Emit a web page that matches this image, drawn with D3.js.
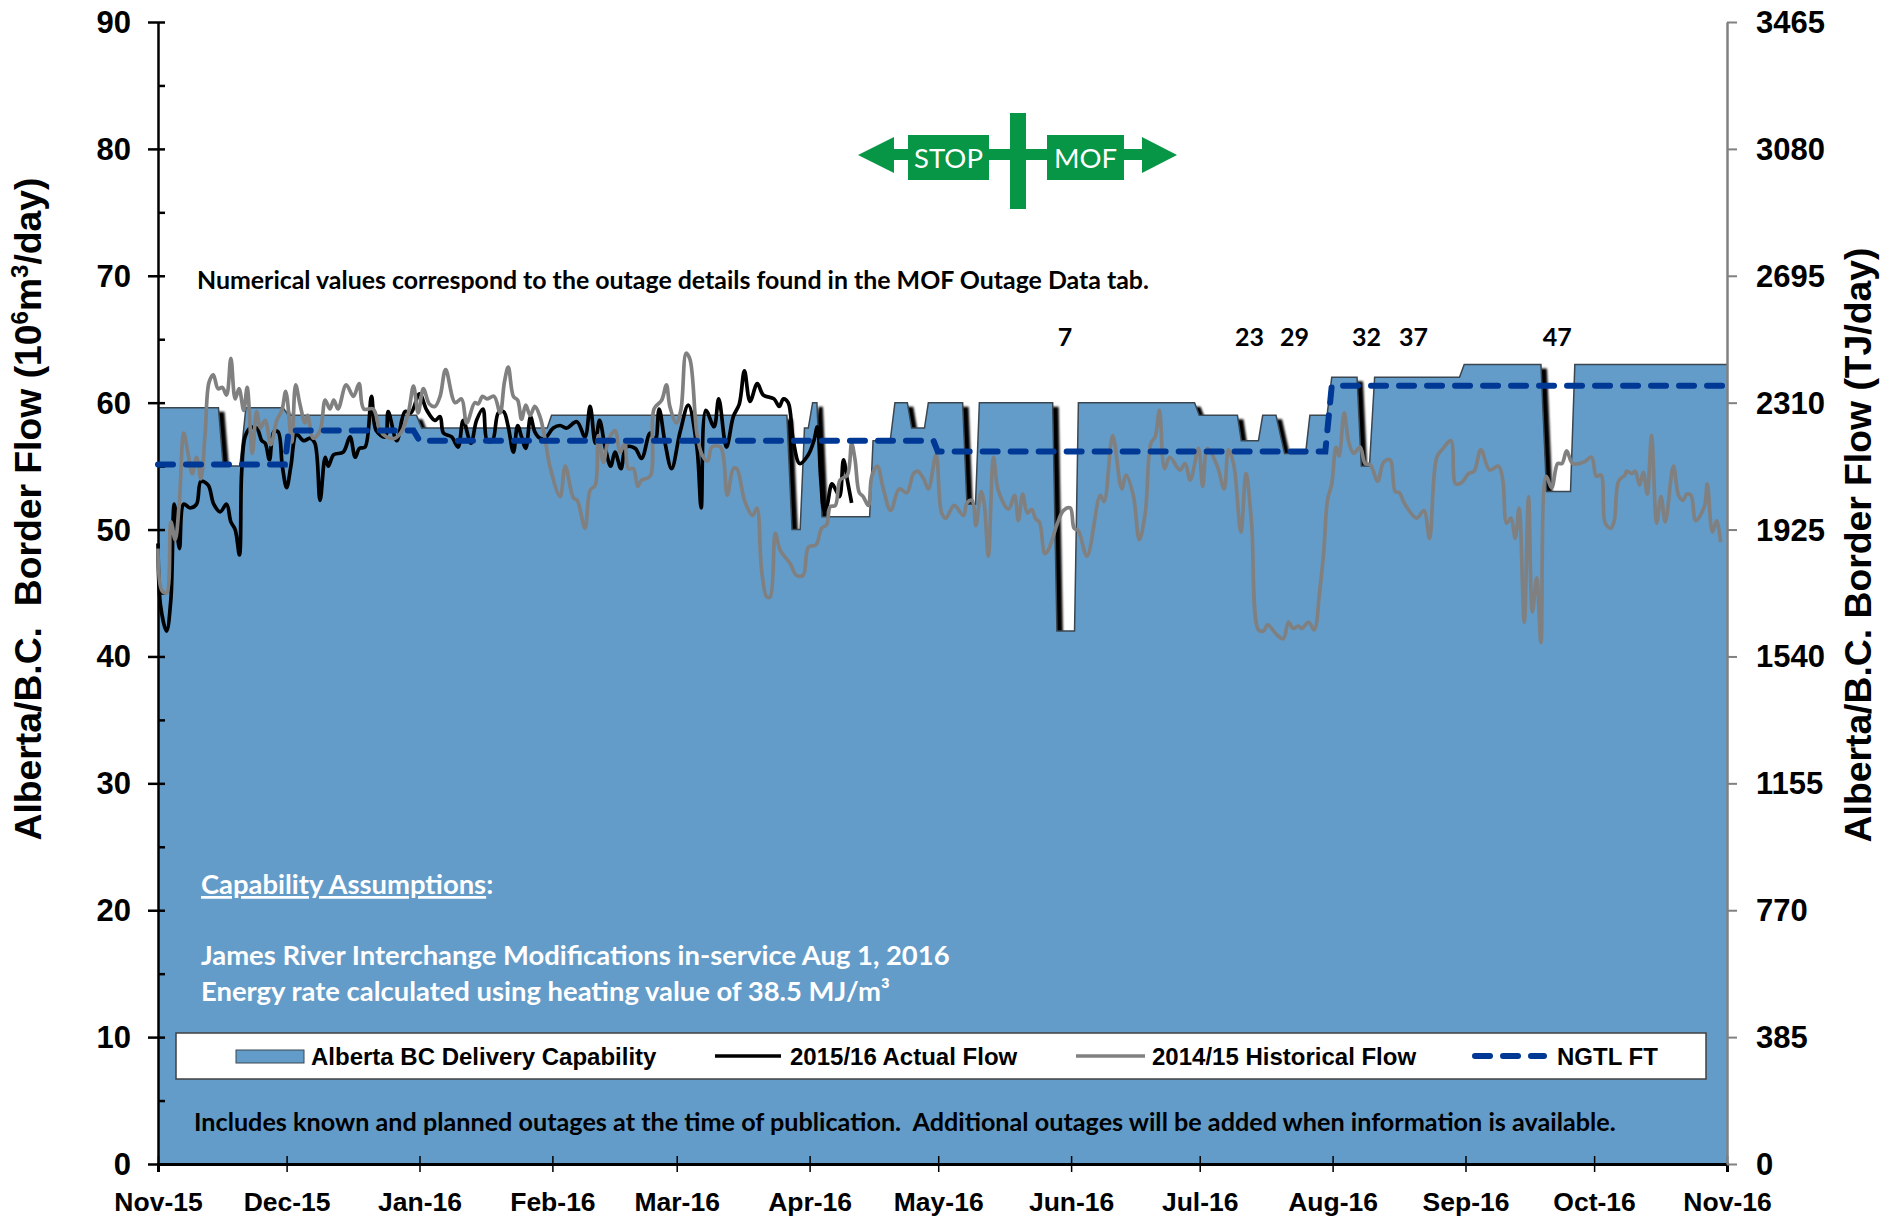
<!DOCTYPE html>
<html>
<head>
<meta charset="utf-8">
<script src="https://cdnjs.cloudflare.com/ajax/libs/d3/7.8.5/d3.min.js"></script>
<style>
  html, body { margin: 0; padding: 0; background: #fff; }
  svg { display: block; }
  .tick text { font-family: "Liberation Sans", Arial, sans-serif; font-weight: bold; fill: #000; }
  .note { font-family: Lato, sans-serif; font-weight: bold; }
  .arial { font-family: "Liberation Sans", Arial, sans-serif; font-weight: bold; }
</style>
</head>
<body>
<svg id="chart" width="1898" height="1217"></svg>
<script>
const capDays = [0, 14.1, 15.2, 19.1, 20.5, 29.2, 30.4, 60.3, 61.5, 90.8, 91.8, 146.7, 147.9, 149.8, 150.8, 151.7, 152.7, 153.7, 154.9, 166, 166.8, 170.8, 171.9, 174.8, 175.8, 178.8, 179.7, 187.7, 188.7, 190.7, 191.6, 208.7, 209.7, 213.8, 214.7, 241.8, 242.9, 251.8, 252.7, 256.7, 257.7, 260.8, 262.8, 267.7, 268.7, 272.7, 273.8, 279.7, 280.7, 282.6, 283.8, 303.6, 304.7, 322.6, 323.9, 329.5, 330.5, 366]
const capValues = [59.6, 59.6, 55, 55, 59.6, 59.6, 59, 59, 58, 58, 59, 59, 50, 50, 58, 58, 60, 60, 51, 51, 57, 57, 60, 60, 58, 58, 60, 60, 52, 52, 60, 60, 42, 42, 60, 60, 59, 59, 57, 57, 59, 59, 56, 56, 59, 59, 62, 62, 55, 55, 62, 62, 63, 63, 53, 53, 63, 63]

const actualDays = [0, 0.6, 2, 3, 3.8, 5, 6, 7.5, 9, 10, 11.7, 13, 14.5, 16, 17, 18, 19, 19.5, 20.3, 21.5, 23, 24.2, 25, 26, 27, 28, 29, 30, 31, 32.3, 34, 35.5, 36.6, 37.8, 39, 39.7, 41, 43.2, 44.8, 46, 47, 48.3, 49.8, 50.9, 53, 53.7, 55.7, 57.6, 59, 61, 62.7, 64.6, 65.8, 66.6, 68.5, 70, 71.2, 73, 74.3, 75.8, 76.8, 78, 79.4, 80.6, 81.7, 82.9, 83.9, 84.8, 85.8, 86.9, 87.9, 89.1, 90.3, 92.2, 93.8, 95.3, 97.7, 99.6, 100.8, 102, 103, 104.3, 105.6, 106.6, 108, 109.2, 111.3, 112.8, 114.8, 116, 116.9, 118.3, 119.8, 121.8, 123.7, 125.7, 126.7, 127.8, 129.7, 130.8, 132.6, 134.2, 135.6, 136.8, 138.1, 139.8, 141.2, 143.7, 144.9, 145.9, 147, 148.2, 149.7, 151.7, 153, 153.8, 154.6, 155.4, 156, 157.2, 158, 159, 159.9, 160.8, 161.8]
const actualValues = [48.9, 44, 42, 44.5, 52, 48.5, 52, 51.7, 52, 53.8, 53.5, 52, 51.4, 52, 50.6, 50, 48, 54.4, 57.3, 58, 58, 57, 56.8, 55.5, 57.7, 57.7, 55, 53.3, 55, 57.5, 57, 57.2, 56.8, 52.3, 55.7, 55, 55.9, 56.1, 57.3, 55.7, 56.4, 56.5, 60.5, 57.8, 57.3, 59.3, 57, 59.3, 59.2, 60.7, 59.4, 58.6, 58.9, 57.6, 57.3, 56.5, 58.6, 56.8, 58.6, 59.5, 57, 57, 59.2, 59.3, 58.1, 56.1, 58.2, 57.3, 56.4, 58.9, 57.7, 57.2, 57.2, 58, 58.2, 58, 58.5, 57.3, 59.7, 56.8, 58.6, 56.5, 55, 56.1, 54.8, 56.5, 56.4, 55.6, 57.6, 57, 59.5, 56.8, 54.8, 57.7, 59.8, 56.5, 51.7, 59.4, 58.1, 60.3, 56.5, 58.9, 59.9, 62.5, 60.1, 61.5, 60.6, 60.3, 59.7, 60.3, 60, 57, 55.2, 55.9, 57, 58.1, 54, 51.5, 51.8, 53.6, 53.2, 52.6, 55.5, 53.9, 52.1]

const histDays = [0, 0.9, 2, 3, 4, 5, 6, 7, 8, 9, 10, 11, 11.9, 12.9, 14, 15, 16, 17, 18, 18.9, 20, 20.8, 22, 23, 23.9, 25, 26.3, 27.7, 28.9, 29.8, 31.2, 32.1, 33.1, 34.3, 34.9, 36.2, 37.8, 39, 40.1, 41, 42, 43.9, 45.6, 46.9, 48, 50.2, 51.8, 53.3, 55.3, 56.8, 58.4, 59.6, 60.7, 61.9, 63.3, 64.6, 65.8, 67.1, 69.3, 70.8, 72, 73.9, 74.7, 75.7, 76.7, 78.4, 79.8, 80.8, 81.7, 82.9, 83.9, 84.8, 85.8, 86.8, 87.9, 89.1, 90.3, 91.4, 93.8, 95, 96.9, 97.8, 99.6, 100.8, 102, 102.7, 103.9, 105, 106.6, 107.8, 108.9, 109.7, 110.9, 111.9, 112.8, 114.8, 115.7, 117.5, 118.6, 119.4, 120.9, 122, 123.2, 124.1, 125.7, 126.9, 128.2, 129.2, 131.2, 132.8, 134.2, 135, 136.9, 138.7, 139.7, 140.8, 142, 142.8, 144, 145.1, 147.5, 148.9, 150.5, 151.7, 153.5, 154.8, 156, 156.8, 158, 159.1, 160.8, 161.8, 162.6, 163.6, 164.5, 165.7, 166.5, 167.8, 169.2, 170.9, 172.9, 174.7, 176.2, 177.2, 178.6, 179.7, 181.5, 182.8, 183.8, 185.7, 187.9, 188.7, 189.9, 190.8, 192, 192.7, 193.7, 194.9, 196, 198.4, 199.8, 200.7, 201.7, 202.8, 203.8, 204.8, 205.6, 206.9, 207.7, 209.7, 211.2, 212.8, 213.7, 214.7, 216.7, 219.8, 220.7, 222.7, 224.8, 225.8, 227.5, 228.9, 230.3, 231.6, 232.6, 233.6, 234.8, 236, 238.4, 239.6, 240.8, 242.7, 243.7, 244.8, 247.1, 248.7, 249.7, 250.9, 252.6, 253.8, 255.1, 256.7, 257.9, 258.8, 261, 262.5, 263.7, 264.8, 266, 266.8, 268.4, 269.7, 271, 271.9, 272.8, 273.8, 274.8, 275.5, 276.7, 277.7, 278.9, 280.4, 281.6, 282.8, 284.5, 285.9, 287.4, 288.6, 289.6, 290.7, 293.6, 295.3, 296.6, 298.3, 299.8, 301.6, 302.7, 304.1, 305.7, 307, 308.6, 310.6, 312.7, 313.7, 314.6, 315.6, 316.6, 317.5, 318.7, 319.7, 320.6, 321.6, 322.6, 323.8, 325.1, 326.5, 327.5, 328.6, 330, 332.5, 334.4, 335.5, 336.6, 337.6, 338.9, 339.7, 340.7, 342.2, 342.6, 343.8, 344.6, 345.6, 346.5, 347.4, 348.4, 349.6, 350.6, 351.6, 353.5, 354.7, 355.7, 356.6, 357.6, 358.7, 360.7, 361.4, 362.6, 363.6, 364.5]
const histValues = [48.5, 45.2, 45, 50.6, 49.2, 52.3, 57.6, 56, 54.4, 55.7, 54, 57.6, 61.6, 62.2, 61.1, 61.2, 60.6, 63.5, 60.3, 61.1, 59.4, 61.2, 56, 59.3, 58, 58.6, 56.7, 58.6, 59.4, 60.9, 56.9, 61.4, 59.9, 58.4, 59, 57.2, 57.8, 60.2, 59.5, 60.2, 59.5, 61.4, 60.5, 61.5, 59.5, 59.5, 57.8, 57.3, 57.2, 57.7, 59.2, 61.3, 59.2, 61.1, 59.9, 59.7, 60.5, 62.6, 60, 60.3, 58.4, 60, 59.9, 60.5, 60.3, 60.5, 59.2, 61.6, 62.8, 60.5, 60.2, 58.7, 59.8, 59, 59.7, 58.9, 57.1, 55, 52.6, 55, 52.5, 52.3, 50.1, 53.1, 53.5, 57.4, 55.3, 57, 57.8, 56.1, 56.8, 54.8, 54.8, 53.4, 53.9, 54.2, 59.5, 60.2, 61.4, 59.7, 58.4, 59.5, 63.9, 63.4, 57.6, 55.9, 55.4, 56.5, 56.5, 52.7, 54.8, 54.8, 52.2, 51.1, 51.7, 46.8, 44.7, 44.7, 49.7, 48.4, 47.3, 46.4, 46.4, 48.6, 48.8, 50.1, 50.4, 51.8, 51.9, 53.9, 54.3, 56.8, 55.5, 52.9, 52.6, 51.9, 54.2, 55, 53.2, 51.5, 53.2, 52.9, 54.4, 54.6, 54, 53.2, 55.9, 51.3, 50.9, 51.9, 51.1, 52.1, 52.3, 50.3, 53, 52.1, 47.9, 55.7, 53.1, 51.6, 52.7, 50.7, 52.8, 51.3, 51.6, 50.8, 50.6, 48.1, 48.4, 50.4, 51.5, 51.7, 50.1, 49.9, 47.9, 52.7, 52.2, 57.4, 53.2, 54.3, 52.7, 49.2, 51.3, 56.8, 57.3, 59.4, 54.8, 55.7, 54.7, 55.2, 53.9, 56.4, 53.4, 56.4, 55, 53.2, 56.3, 55.2, 49.8, 54.4, 50.5, 42.1, 42, 42.5, 41.7, 41.4, 42.7, 42.2, 42.4, 42.2, 42.7, 42.1, 45.2, 48.1, 52.3, 53.6, 56.5, 55.8, 59.2, 57, 56, 56.5, 55.2, 55.1, 53.8, 55.3, 55.5, 53, 52.9, 52.1, 50.9, 51.5, 49.3, 55.7, 56.4, 57, 53.6, 53.7, 54.4, 54.6, 56.3, 54.7, 55, 53.9, 50.5, 50.9, 49.3, 51.7, 42.7, 52.6, 43.5, 46.2, 41.1, 54.2, 53.3, 55.2, 55.2, 56.2, 55.2, 55.3, 55.7, 54.2, 54.3, 50.5, 50.1, 50.7, 53.8, 54.3, 54.6, 54.4, 54.6, 53.5, 54.5, 52.8, 57.4, 50.5, 52.6, 50.6, 55, 52.7, 52.3, 52.8, 52.7, 50.7, 51.8, 53.6, 49.8, 50.7, 49]

const ftDays = [0, 29.6, 30.5, 59.6, 61, 180.9, 181.9, 272.3, 273.8, 366]
const ftValues = [55.13, 55.13, 57.8, 57.8, 57, 57, 56.15, 56.15, 61.33, 61.33]

const leftTicks = [0, 10, 20, 30, 40, 50, 60, 70, 80, 90]
const leftMinor = [5, 15, 25, 35, 45, 55, 65, 75, 85]
const rightTicks = [0, 385, 770, 1155, 1540, 1925, 2310, 2695, 3080, 3465]
const outageLabels = ["7", "23", "29", "32", "37", "47"]
const outageDays = [211.6, 254.6, 265.1, 281.9, 292.9, 326.4]

const svg = d3.select("#chart")
const plotLeft = 158, plotRight = 1727, plotTop = 22, plotBottom = 1164

const start = Date.UTC(2015, 10, 1), end = Date.UTC(2016, 10, 1)
const x = d3.scaleUtc().domain([start, end]).range([plotLeft, plotRight])
const y = d3.scaleLinear().domain([0, 90]).range([plotBottom, plotTop])
const yRight = d3.scaleLinear().domain([0, 3465]).range([plotBottom, plotTop])
const xDay = d => x(start + d * 86400000)

const zip = (days, vals) => days.map((d, i) => [d, vals[i]])

const defs = svg.append("defs")
defs.append("filter").attr("id", "soft").attr("x", "-5%").attr("width", "110%")
  .append("feGaussianBlur").attr("stdDeviation", 0.9)
defs.append("clipPath").attr("id", "plotClip")
  .append("rect").attr("x", plotLeft).attr("y", plotTop).attr("width", plotRight - plotLeft + 1).attr("height", plotBottom - plotTop)

const capArea = d3.area().x(d => xDay(d[0])).y0(y(0)).y1(d => y(d[1]))
const capLine = d3.line().x(d => xDay(d[0])).y(d => y(d[1]))
const capData = zip(capDays, capValues)

// black shadow behind the area, it shows only in the outage notches
svg.append("g").attr("clip-path", "url(#plotClip)")
  .append("path").datum(capData)
  .attr("d", capArea)
  .attr("fill", "#000")
  .attr("filter", "url(#soft)")
  .attr("transform", "translate(6,4)")

svg.append("path").datum(capData).attr("d", capArea).attr("fill", "#639cc9")
svg.append("path").datum(capData).attr("d", capLine)
  .attr("fill", "none").attr("stroke", "#3a4650").attr("stroke-width", 1.5)

// axes
const xAxis = d3.axisBottom(x).ticks(d3.utcMonth.every(1)).tickSize(8).tickFormat(d3.utcFormat("%b-%y"))
const gx = svg.append("g").attr("transform", `translate(0,${plotBottom})`).call(xAxis)
gx.select(".domain").attr("stroke", "#000").attr("stroke-width", 3)
gx.selectAll(".tick line").attr("y1", -8).attr("stroke", "#000").attr("stroke-width", 1.5)
gx.selectAll(".tick text").attr("font-size", 26.5).attr("y", 28).attr("dy", "0.71em")

const gyMinor = svg.append("g").attr("transform", `translate(${plotLeft},0)`)
  .call(d3.axisLeft(y).tickValues(leftMinor).tickSize(-7).tickFormat(""))
gyMinor.select(".domain").remove()
gyMinor.selectAll("line").attr("stroke", "#000").attr("stroke-width", 2.5)

const gy = svg.append("g").attr("transform", `translate(${plotLeft},0)`)
  .call(d3.axisLeft(y).tickValues(leftTicks).tickSize(10).tickSizeOuter(0))
gy.select(".domain").attr("stroke", "#000").attr("stroke-width", 2.5)
gy.selectAll(".tick line").attr("x2", -10).attr("x1", 7).attr("stroke", "#000").attr("stroke-width", 2.5)
gy.selectAll(".tick text").attr("font-size", 31).attr("x", -27).attr("dy", "0.34em")

const gr = svg.append("g").attr("transform", `translate(${plotRight},0)`)
  .call(d3.axisRight(yRight).tickValues(rightTicks).tickSize(10).tickSizeOuter(0).tickFormat(d3.format("d")))
gr.select(".domain").attr("stroke", "#808080").attr("stroke-width", 2.5)
gr.selectAll(".tick line").attr("stroke", "#808080").attr("stroke-width", 2)
gr.selectAll(".tick text").attr("font-size", 31).attr("x", 29).attr("dy", "0.34em")

// flow lines
const smooth = d3.line().x(d => xDay(d[0])).y(d => y(d[1])).curve(d3.curveCatmullRom.alpha(0.5))
svg.append("path").datum(zip(actualDays, actualValues)).attr("d", smooth)
  .attr("fill", "none").attr("stroke", "#000").attr("stroke-width", 3.7)
svg.append("path").datum(zip(histDays, histValues)).attr("d", smooth)
  .attr("fill", "none").attr("stroke", "#808080").attr("stroke-width", 3.7)
svg.append("path").datum(zip(ftDays, ftValues)).attr("d", capLine)
  .attr("fill", "none").attr("stroke", "#003896").attr("stroke-width", 6)
  .attr("stroke-linecap", "round").attr("stroke-dasharray", "15 13")

// axis titles
const leftTitle = svg.append("text").attr("class", "arial")
  .attr("transform", "translate(41,509) rotate(-90)")
  .attr("text-anchor", "middle").attr("font-size", 37.3)
leftTitle.append("tspan").text("Alberta/B.C.\u00a0\u00a0Border Flow (10")
leftTitle.append("tspan").attr("font-size", 24).attr("dy", -13).text("6")
leftTitle.append("tspan").attr("dy", 13).text("m")
leftTitle.append("tspan").attr("font-size", 24).attr("dy", -13).text("3")
leftTitle.append("tspan").attr("dy", 13).text("/day)")

svg.append("text").attr("class", "arial")
  .attr("transform", "translate(1871,545) rotate(-90)")
  .attr("text-anchor", "middle").attr("font-size", 37.3)
  .text("Alberta/B.C. Border Flow (TJ/day)")

// notes
svg.append("text").attr("class", "note").attr("x", 197).attr("y", 289).attr("font-size", 24.9)
  .attr("fill", "#000")
  .text("Numerical values correspond to the outage details found in the MOF Outage Data tab.")

svg.selectAll(".outage").data(outageLabels).enter().append("text")
  .attr("class", "note outage")
  .attr("x", (d, i) => xDay(outageDays[i])).attr("y", 346)
  .attr("text-anchor", "middle").attr("font-size", 25).attr("fill", "#000")
  .text(d => d)

const capNote = svg.append("text").attr("class", "note").attr("x", 201).attr("y", 894)
  .attr("font-size", 27.4).attr("fill", "#fff")
capNote.append("tspan").attr("text-decoration", "underline").text("Capability Assumptions")
capNote.append("tspan").text(":")
svg.append("text").attr("class", "note").attr("x", 201).attr("y", 965).attr("font-size", 27.4)
  .attr("fill", "#fff").text("James River Interchange Modifications in-service Aug 1, 2016")
svg.append("text").attr("class", "note").attr("x", 201).attr("y", 1001).attr("font-size", 27.4)
  .attr("fill", "#fff").text("Energy rate calculated using heating value of 38.5 MJ/m\u00b3")

svg.append("text").attr("class", "note").attr("x", 194).attr("y", 1131).attr("font-size", 25.2)
  .attr("fill", "#000").style("white-space", "pre")
  .text("Includes known and planned outages at the time of publication.  Additional outages will be added when information is available.")

// legend
const legend = svg.append("g")
legend.append("rect").attr("x", 176).attr("y", 1033).attr("width", 1530).attr("height", 46)
  .attr("fill", "#fff").attr("stroke", "#404040").attr("stroke-width", 1.5)
legend.append("rect").attr("x", 236).attr("y", 1050).attr("width", 68).attr("height", 13)
  .attr("fill", "#639cc9").attr("stroke", "#3a4650").attr("stroke-width", 1)
legend.append("line").attr("x1", 715).attr("x2", 781).attr("y1", 1056).attr("y2", 1056)
  .attr("stroke", "#000").attr("stroke-width", 3.7)
legend.append("line").attr("x1", 1076).attr("x2", 1145).attr("y1", 1056).attr("y2", 1056)
  .attr("stroke", "#808080").attr("stroke-width", 3.7)
legend.append("line").attr("x1", 1475).attr("x2", 1544).attr("y1", 1056).attr("y2", 1056)
  .attr("stroke", "#003896").attr("stroke-width", 6)
  .attr("stroke-linecap", "round").attr("stroke-dasharray", "15 13")
const legendLabels = ["Alberta BC Delivery Capability", "2015/16 Actual Flow", "2014/15 Historical Flow", "NGTL FT"]
const legendX = [311, 790, 1152, 1557]
legend.selectAll(".lab").data(legendLabels).enter().append("text")
  .attr("class", "arial lab")
  .attr("x", (d, i) => legendX[i]).attr("y", 1065).attr("font-size", 24).attr("fill", "#000")
  .text(d => d)

// STOP / MOF sign
const sign = svg.append("g").attr("fill", "#069646")
sign.append("rect").attr("x", 1010).attr("y", 113).attr("width", 16).attr("height", 96)
sign.append("rect").attr("x", 890).attr("y", 149).attr("width", 256).attr("height", 11)
sign.append("rect").attr("x", 908).attr("y", 135).attr("width", 81).attr("height", 45)
sign.append("rect").attr("x", 1047).attr("y", 135).attr("width", 77).attr("height", 45)
sign.append("path").attr("d", "M858,155 L894,137 L894,173 Z")
sign.append("path").attr("d", "M1177,155 L1142,137 L1142,173 Z")
svg.append("text").attr("x", 948.5).attr("y", 168).attr("text-anchor", "middle")
  .attr("font-family", "Lato, sans-serif").attr("font-size", 27.5).attr("fill", "#fff").text("STOP")
svg.append("text").attr("x", 1085.5).attr("y", 168).attr("text-anchor", "middle")
  .attr("font-family", "Lato, sans-serif").attr("font-size", 27.5).attr("fill", "#fff").text("MOF")
</script>
</body>
</html>
